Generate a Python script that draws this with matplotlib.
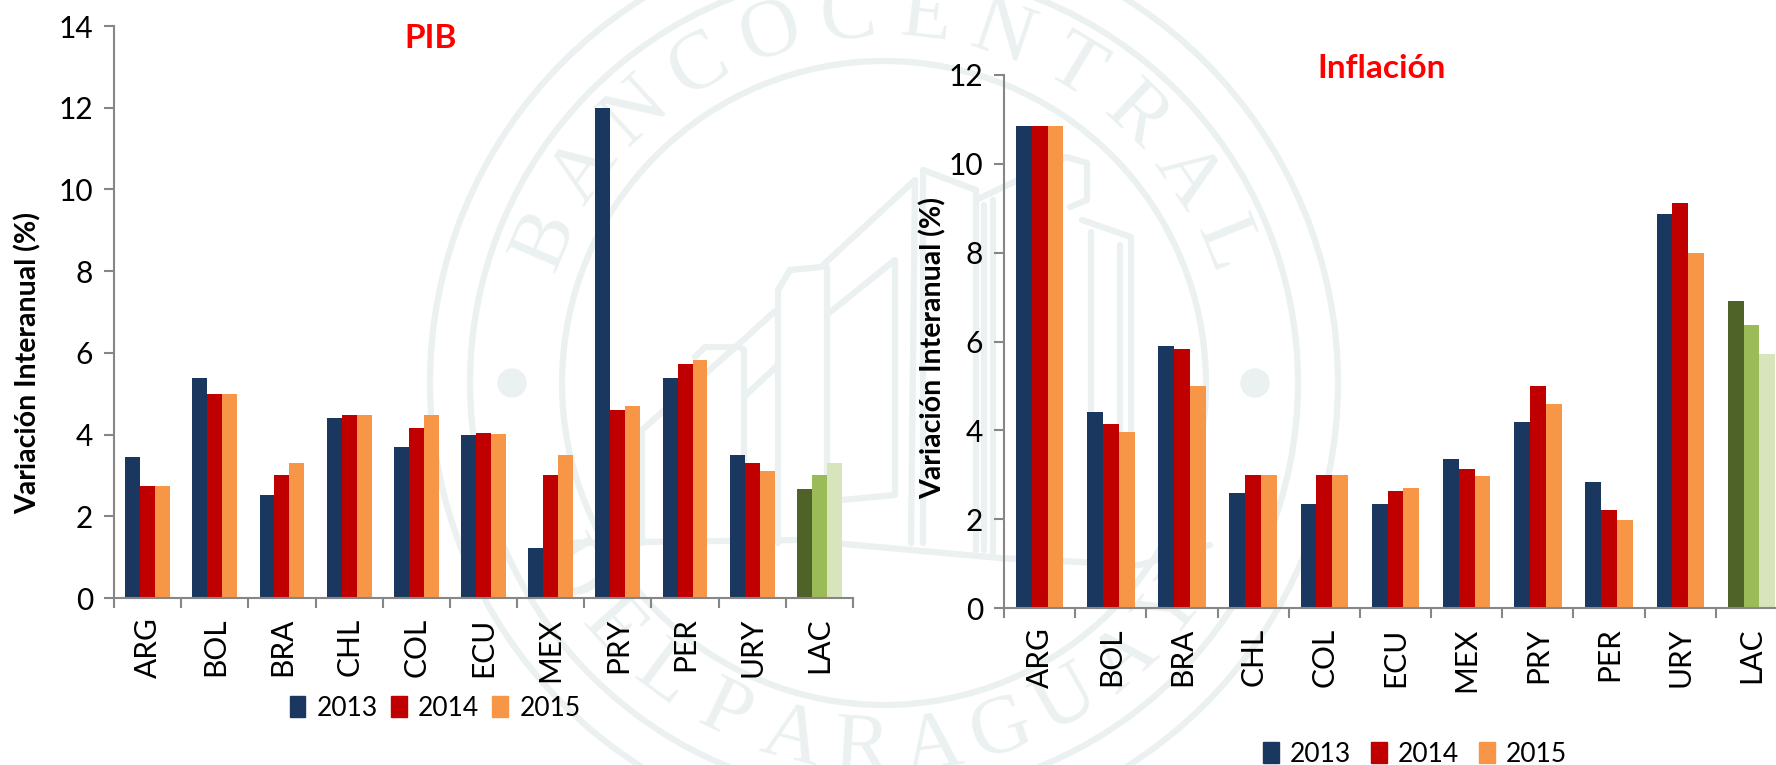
import numpy as np
import matplotlib
matplotlib.use("Agg")
import matplotlib.pyplot as plt
from matplotlib.patches import Circle, Patch

plt.rcParams["font.family"] = ["Lato", "DejaVu Sans"]

countries_pib = ["ARG", "BOL", "BRA", "CHL", "COL", "ECU", "MEX", "PRY", "PER", "URY", "LAC"]
years = ["2013", "2014", "2015"]

pib_2013 = [3.45, 5.39, 2.53, 4.40, 3.70, 4.00, 1.22, 12.0, 5.39, 3.50, 2.68]
pib_2014 = [2.75, 5.00, 3.00, 4.48, 4.16, 4.03, 3.00, 4.60, 5.72, 3.30, 3.00]
pib_2015 = [2.75, 5.00, 3.30, 4.48, 4.47, 4.01, 3.49, 4.70, 5.83, 3.10, 3.31]

inf_2013 = [10.85, 4.41, 5.90, 2.59, 2.35, 2.35, 3.35, 4.19, 2.84, 8.87, 6.92]
inf_2014 = [10.85, 4.15, 5.82, 3.00, 2.99, 2.63, 3.13, 5.00, 2.21, 9.12, 6.38]
inf_2015 = [10.85, 3.97, 5.00, 3.00, 2.99, 2.71, 2.98, 4.60, 1.99, 7.99, 5.72]

colors = ["#1A3760", "#C00000", "#F79646"]
lac_colors = ["#4F6228", "#9BBB59", "#D8E4BC"]
axis_color = "#868686"
seal_color = "#EBF0F0"

W, H = 1776, 765
fig = plt.figure(figsize=(W / 100, H / 100), dpi=100)


def px_axes(left, top, right, bottom):
    return fig.add_axes([left / W, 1 - bottom / H, (right - left) / W, (bottom - top) / H])


# Faded bank seal behind the charts, in pixel coordinates
bg = fig.add_axes([0, 0, 1, 1], zorder=-1)
bg.set_xlim(0, W)
bg.set_ylim(H, 0)
bg.axis("off")
cx, cy = 884, 383
for r in (454, 414, 322):
    bg.add_patch(Circle((cx, cy), r, fill=False, ec=seal_color, lw=4.5))
for dx in (-372, 371):
    bg.add_patch(Circle((cx + dx, cy), 14, color=seal_color))


def arc_text(text, start, end, bottom=False):
    for ch, a in zip(text, np.radians(np.linspace(start, end, len(text)))):
        x = cx + 367 * np.sin(a)
        y = cy - 367 * np.cos(a)
        rot = -np.degrees(a) + (180 if bottom else 0)
        bg.text(x, y, ch, fontsize=60, color=seal_color, family="Liberation Serif",
                rotation=rot, rotation_mode="anchor", ha="center", va="center", clip_on=True)


arc_text("BANCOCENTRAL", -67, 68)
arc_text("DELPARAGUAY", 239, 128, bottom=True)

building = [
    [(642, 543), (642, 430), (740, 343), (774, 312)],
    [(695, 357), (705, 347), (740, 347), (744, 350), (744, 543)],
    [(746, 395), (778, 365)],
    [(778, 543), (778, 290), (790, 270), (821, 267), (915, 180), (911, 543)],
    [(827, 267), (827, 543)],
    [(829, 313), (895, 260), (895, 495), (842, 500)],
    [(923, 543), (923, 170), (976, 190), (976, 550)],
    [(984, 205), (984, 550)],
    [(993, 200), (993, 552)],
    [(976, 200), (1066, 157), (1087, 163), (1087, 200), (1070, 207)],
    [(1082, 220), (1131, 237), (1131, 563)],
    [(1091, 232), (1091, 563)],
    [(1120, 245), (1120, 563)],
    [(558, 543), (800, 540), (1000, 558), (1140, 565), (1210, 545)],
]
for pts in building:
    xs, ys = zip(*pts)
    bg.plot(xs, ys, color=seal_color, lw=4.5, solid_capstyle="round")


def draw_chart(ax, series, ymax, ylabel_xy):
    ax.patch.set_alpha(0)
    x = np.arange(len(countries_pib))
    width = 2 / 9
    for i, values in enumerate(series):
        bar_colors = [colors[i]] * (len(x) - 1) + [lac_colors[i]]
        ax.bar(x + 0.5 + (i - 1) * width, values, width, color=bar_colors)
    ax.set_xlim(0, len(x))
    ax.set_ylim(0, ymax)
    ax.set_yticks(range(0, ymax + 1, 2))
    ax.set_xticks(range(len(x) + 1), labels=[])
    ax.set_xticks(x + 0.5, labels=countries_pib, minor=True, rotation=90)
    ax.tick_params(axis="y", labelsize=21.5, length=7, width=1.5, color=axis_color, pad=8)
    ax.tick_params(axis="x", which="major", length=7, width=1.5, color=axis_color)
    ax.tick_params(axis="x", which="minor", length=0, labelsize=21.5, pad=14)
    for side in ("top", "right"):
        ax.spines[side].set_visible(False)
    for side in ("left", "bottom"):
        ax.spines[side].set_color(axis_color)
        ax.spines[side].set_linewidth(1.5)
    ax.set_ylabel("Variación Interanual (%)", fontsize=20.5, fontweight="bold", va="center")
    ax.yaxis.set_label_coords(ylabel_xy[0] / W, 1 - ylabel_xy[1] / H, transform=fig.transFigure)


def draw_legend(center, spacing):
    handles = [Patch(color=c, label=y) for c, y in zip(colors, years)]
    fig.legend(handles=handles, loc="center", bbox_to_anchor=(center[0] / W, 1 - center[1] / H),
               ncols=3, frameon=False, fontsize=19, handlelength=0.6, handleheight=0.85,
               handletextpad=0.42, columnspacing=spacing)


ax1 = px_axes(114, 26, 853, 598)
draw_chart(ax1, [pib_2013, pib_2014, pib_2015], 14, (28, 363))
draw_legend((435, 708), 0.5)
fig.text(431 / W, 1 - 38 / H, "PIB", color="#FF0000", fontsize=24, fontweight="bold",
         ha="center", va="center")

ax2 = px_axes(1004, 75, 1787, 608)
draw_chart(ax2, [inf_2013, inf_2014, inf_2015], 12, (933, 348))
draw_legend((1415, 754), 0.75)
fig.text(1382 / W, 1 - 69 / H, "Inflación", color="#FF0000", fontsize=24, fontweight="bold",
         ha="center", va="center")

fig.savefig("out.png", dpi=100)
